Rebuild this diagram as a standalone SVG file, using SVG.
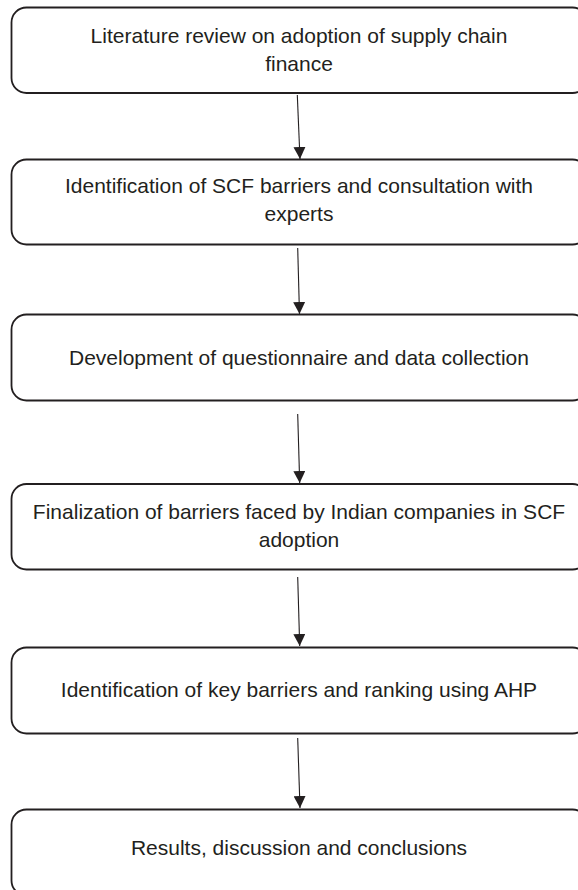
<svg xmlns="http://www.w3.org/2000/svg" width="578" height="890" viewBox="0 0 578 890">
<defs>
<style>
.box{fill:#fff;stroke:#231f20;stroke-width:1.8}
.t{font-family:"Liberation Sans",Arial,sans-serif;font-size:21px;fill:#231f20;text-anchor:middle}
.c{stroke:#231f20;stroke-width:1.1;fill:none}
</style>
<marker id="ah" viewBox="0 0 12 12" markerWidth="12" markerHeight="12" refX="12" refY="6" orient="auto" markerUnits="userSpaceOnUse">
<path d="M0,0 L12,6 L0,12 Z" fill="#231f20"/>
</marker>
</defs>
<rect width="578" height="890" fill="#fff"/>
<g id="n1"><rect class="box" x="11.5" y="7.5" width="576" height="85.5" rx="15"/><text class="t" x="299" y="43">Literature review on adoption of supply chain</text><text class="t" x="299" y="71">finance</text></g>
<g id="n2"><rect class="box" x="11.5" y="159.5" width="576" height="85" rx="15"/><text class="t" x="299" y="193">Identification of SCF barriers and consultation with</text><text class="t" x="299" y="221">experts</text></g>
<g id="n3"><rect class="box" x="11.5" y="314.5" width="576" height="86" rx="15"/><text class="t" x="299" y="365">Development of questionnaire and data collection</text></g>
<g id="n4"><rect class="box" x="11.5" y="484" width="576" height="85.5" rx="15"/><text class="t" x="299" y="519">Finalization of barriers faced by Indian companies in SCF</text><text class="t" x="299" y="547">adoption</text></g>
<g id="n5"><rect class="box" x="11.5" y="647.5" width="576" height="86" rx="15"/><text class="t" x="299" y="697">Identification of key barriers and ranking using AHP</text></g>
<g id="n6"><rect class="box" x="11.5" y="809.5" width="576" height="86" rx="15"/><text class="t" x="299" y="855">Results, discussion and conclusions</text></g>
<g id="connectors">
<path class="c" d="M297.3,95 L300,159" marker-end="url(#ah)"/>
<path class="c" d="M297.7,248 L299.5,314" marker-end="url(#ah)"/>
<path class="c" d="M297.7,414 L299.7,483" marker-end="url(#ah)"/>
<path class="c" d="M297.7,577 L299.7,646" marker-end="url(#ah)"/>
<path class="c" d="M297.7,738 L300,808" marker-end="url(#ah)"/>
</g>
</svg>
